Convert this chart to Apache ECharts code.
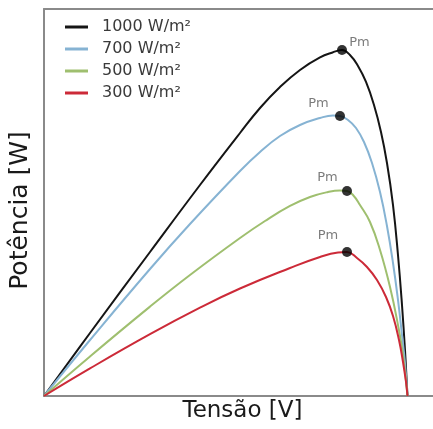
<!DOCTYPE html>
<html>
<head>
<meta charset="utf-8">
<script src="https://cdn.jsdelivr.net/npm/echarts@6/dist/echarts.min.js"></script>
<style>
html,body{margin:0;padding:0;background:#fff;}
#chart{width:433px;height:429px;}
</style>
</head>
<body>
<div id="chart"></div>
<script>
// Series names
const seriesNames = ['1000 W/m²', '700 W/m²', '500 W/m²', '300 W/m²'];

// Voltage (x) and power (y) values (relative units, 0-100)
const v1000 = [0, 11.83, 27.25, 40.10, 50.39, 55.53, 60.67, 65.81, 70.95, 74.18, 76.61, 78.66, 80.72, 82.78, 84.83, 86.63, 88.17, 89.72, 91.00, 92.03, 92.80, 93.44];
const p1000 = [0, 16.28, 37.21, 54.52, 67.96, 74.42, 79.84, 84.24, 87.47, 88.76, 89.41, 88.11, 85.27, 81.14, 75.19, 68.22, 60.21, 49.35, 36.43, 23.51, 11.89, 0];

const v700 = [0, 11.83, 27.25, 37.53, 50.39, 55.53, 60.67, 65.81, 70.95, 74.29, 76.09, 78.15, 80.21, 82.26, 84.32, 86.38, 88.17, 89.72, 91.00, 92.03, 92.80, 93.44];
const p700 = [0, 14.47, 32.82, 44.44, 58.14, 63.05, 67.18, 70.03, 71.83, 72.48, 72.35, 71.32, 69.25, 65.63, 60.21, 52.71, 43.93, 34.37, 24.81, 15.76, 8.53, 0];

const v500 = [0, 11.83, 27.25, 37.53, 50.39, 56.81, 63.24, 68.38, 73.01, 76.09, 77.89, 79.43, 81.23, 83.80, 86.38, 88.95, 91.00, 92.29, 93.44];
const p500 = [0, 10.23, 23.10, 31.27, 40.83, 45.22, 49.10, 51.42, 52.71, 53.10, 52.97, 51.94, 49.35, 44.96, 37.73, 28.17, 18.35, 10.59, 0];

const v300 = [0, 11.83, 27.25, 40.10, 50.39, 63.24, 70.95, 75.58, 77.89, 80.46, 83.03, 85.60, 87.92, 89.72, 91.26, 92.29, 93.06, 93.44];
const p300 = [0, 7.13, 15.97, 22.82, 27.78, 33.07, 35.92, 37.08, 37.21, 35.66, 33.33, 29.97, 25.58, 20.67, 14.47, 8.79, 3.62, 0];

// Maximum power points
const pmV = [76.61, 76.09, 77.89, 77.89];
const pmP = [89.41, 72.35, 52.97, 37.21];
const pmLabel = 'Pm';

// style config
const colors = ['#151515', '#86b3d3', '#9fbf6f', '#cc2a38'];
const pmLabelOffsets = [[17.5, -7.5], [-21.5, -12.5], [-19.5, -13.5], [-19, -16.5]];

const allV = [v1000, v700, v500, v300];
const allP = [p1000, p700, p500, p300];

const lineSeries = seriesNames.map((name, i) => ({
  name: name,
  type: 'line',
  data: allV[i].map((v, k) => [v, allP[i][k]]),
  smooth: 0.45,
  showSymbol: false,
  symbol: 'none',
  lineStyle: { color: colors[i], width: 2 },
  itemStyle: { color: colors[i] },
  z: 2
}));

const pmSeries = {
  type: 'scatter',
  symbolSize: 10,
  itemStyle: { color: '#000' },
  z: 5,
  label: {
    show: true,
    position: 'inside',
    formatter: pmLabel,
    fontFamily: 'DejaVu Sans',
    fontSize: 13,
    color: '#5a5a5a'
  },
  data: pmV.map((v, i) => ({
    value: [v, pmP[i]],
    label: { offset: pmLabelOffsets[i] }
  }))
};

const axisLineStyle = { show: true, lineStyle: { color: '#8a8a8a', width: 2 } };

const chart = echarts.init(document.getElementById('chart'), null, { renderer: 'canvas' });
chart.setOption({
  backgroundColor: '#ffffff',
  animation: false,
  grid: { left: 44, top: 9, bottom: 33, right: 0 },
  legend: {
    data: seriesNames,
    orient: 'vertical',
    left: 65,
    top: 19,
    padding: 0,
    itemWidth: 23,
    itemHeight: 3,
    itemGap: 6,
    icon: 'rect',
    formatter: name => '{g|}' + name,
    textStyle: {
      fontFamily: 'DejaVu Sans',
      fontSize: 16,
      lineHeight: 16,
      color: '#3a3a3a',
      rich: { g: { width: 9 } }
    }
  },
  xAxis: [{
    type: 'value',
    min: 0, max: 100,
    name: 'Tensão [V]',
    nameLocation: 'middle',
    nameGap: 4,
    nameTextStyle: { fontFamily: 'DejaVu Sans', fontSize: 23, color: '#1a1a1a', padding: [0, 0, 0, 8] },
    axisLine: axisLineStyle,
    axisTick: { show: false },
    axisLabel: { show: false },
    splitLine: { show: false }
  }, {
    type: 'value',
    position: 'top',
    min: 0, max: 100,
    axisLine: axisLineStyle,
    axisTick: { show: false },
    axisLabel: { show: false },
    splitLine: { show: false }
  }],
  yAxis: {
    type: 'value',
    min: 0, max: 100,
    name: 'Potência [W]',
    nameLocation: 'middle',
    nameGap: 11,
    nameTextStyle: { fontFamily: 'DejaVu Sans', fontSize: 25, color: '#1a1a1a', padding: [0, 0, 0, -16] },
    axisLine: axisLineStyle,
    axisTick: { show: false },
    axisLabel: { show: false },
    splitLine: { show: false }
  },
  series: lineSeries.concat([pmSeries])
});
</script>
</body>
</html>
